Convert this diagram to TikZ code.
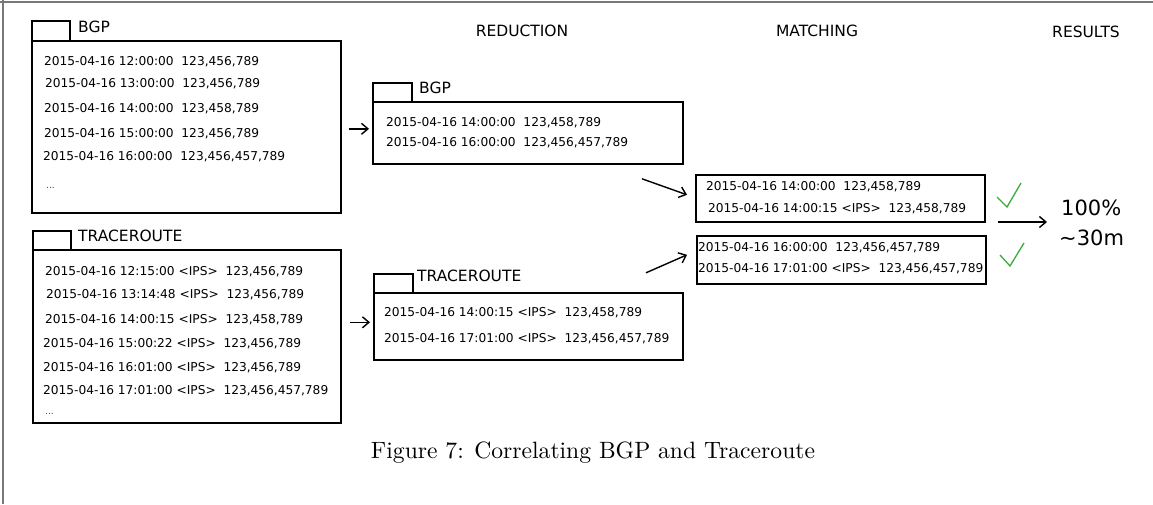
\documentclass[tikz,border=0pt]{standalone}
\usepackage{fontspec}
\usepackage{graphicx}
\newfontfamily\dejavu{DejaVu Sans}
\usetikzlibrary{arrows.meta}
\definecolor{checkgreen}{RGB}{60,170,60}
\definecolor{rulegray}{RGB}{120,120,120}
\tikzset{
  panel/.style={draw=black, line width=1.6pt, inner sep=0pt, anchor=north west},
  tabbox/.style={draw=black, line width=1.6pt, inner sep=0pt, anchor=north west},
  row/.style={anchor=west, inner sep=0pt, font=\dejavu\fontsize{12.2}{14}\selectfont,
              text height=8.9pt, text depth=0pt},
  more/.style={anchor=west, inner sep=0pt, font=\dejavu\fontsize{9}{11}\selectfont,
              text height=2pt, text depth=0pt, text=black!75},
  tabtitle/.style={anchor=west, inner sep=0pt, font=\dejavu\fontsize{15.5}{18}\selectfont,
              text height=11.3pt, text depth=0pt},
  head/.style={inner sep=0pt, font=\dejavu\fontsize{15.5}{18}\selectfont,
              text height=11.3pt, text depth=0pt},
  result/.style={anchor=west, inner sep=0pt, font=\dejavu\fontsize{21}{25}\selectfont,
              text height=15.3pt, text depth=0pt},
  flow/.style={line width=1.4pt, -{Straight Barb[length=6.5pt,width=11pt]}},
  tick/.style={draw=checkgreen, line width=1.3pt},
}
\begin{document}
\begin{tikzpicture}[x=1pt,y=-1pt]
\useasboundingbox (0,0) rectangle (1153,504);

% page rules
\draw[rulegray, line width=1.2pt] (0,2) -- (1153,2);
\draw[rulegray, line width=1.2pt] (3,0) -- (3,504);

% column headings
\node[head] (hred) at (522,31) {REDUCTION};
\node[head] (hmat) at (817,31) {MATCHING};
\node[head] (hres) at (1086,32) {RESULTS};

% raw BGP records
\node[tabbox, minimum width=38pt, minimum height=20pt] (bgpTab) at (31,20) {};
\node[tabtitle] (bgpTitle) at (78,27) {BGP};
\node[panel, minimum width=309pt, minimum height=172pt] (bgpRaw) at (31,40) {};
\node[row] (b1) at (44,61)  {2015-04-16 12:00:00\ \ 123,456,789};
\node[row] (b2) at (45,83)  {2015-04-16 13:00:00\ \ 123,456,789};
\node[row] (b3) at (44,108) {2015-04-16 14:00:00\ \ 123,458,789};
\node[row] (b4) at (44,133) {2015-04-16 15:00:00\ \ 123,456,789};
\node[row] (b5) at (43,156) {2015-04-16 16:00:00\ \ 123,456,457,789};
\node[more] (b6) at (46,187) {...};

% raw traceroute records
\node[tabbox, minimum width=38pt, minimum height=19pt] (trTab) at (32,230) {};
\node[tabtitle] (trTitle) at (78,236) {TRACEROUTE};
\node[panel, minimum width=308pt, minimum height=173pt] (trRaw) at (32,249) {};
\node[row] (t1) at (45,271) {2015-04-16 12:15:00 <IPS>\ \ 123,456,789};
\node[row] (t2) at (46,294) {2015-04-16 13:14:48 <IPS>\ \ 123,456,789};
\node[row] (t3) at (45,319) {2015-04-16 14:00:15 <IPS>\ \ 123,458,789};
\node[row] (t4) at (43,343) {2015-04-16 15:00:22 <IPS>\ \ 123,456,789};
\node[row] (t5) at (43,367) {2015-04-16 16:01:00 <IPS>\ \ 123,456,789};
\node[row] (t6) at (43,390) {2015-04-16 17:01:00 <IPS>\ \ 123,456,457,789};
\node[more] (t7) at (45,413) {...};

% reduced BGP
\node[tabbox, minimum width=39pt, minimum height=19pt] (bgpRedTab) at (372,82) {};
\node[tabtitle] (bgpRedTitle) at (419,88) {BGP};
\node[panel, minimum width=310pt, minimum height=62pt] (bgpRed) at (372,101) {};
\node[row] (rb1) at (386,122) {2015-04-16 14:00:00\ \ 123,458,789};
\node[row] (rb2) at (386,142) {2015-04-16 16:00:00\ \ 123,456,457,789};

% reduced traceroute
\node[tabbox, minimum width=39pt, minimum height=19pt] (trRedTab) at (373,273) {};
\node[tabtitle] (trRedTitle) at (417,276) {TRACEROUTE};
\node[panel, minimum width=309pt, minimum height=67pt] (trRed) at (373,292) {};
\node[row] (rt1) at (384,312) {2015-04-16 14:00:15 <IPS>\ \ 123,458,789};
\node[row] (rt2) at (384,338) {2015-04-16 17:01:00 <IPS>\ \ 123,456,457,789};

% matched pairs
\node[panel, minimum width=289pt, minimum height=47pt] (matchA) at (695,174) {};
\node[row] (ma1) at (706,186) {2015-04-16 14:00:00\ \ 123,458,789};
\node[row] (ma2) at (708,208) {2015-04-16 14:00:15 <IPS>\ \ 123,458,789};
\node[panel, minimum width=289pt, minimum height=48pt] (matchB) at (696,235) {};
\node[row] (mb1) at (698,247) {2015-04-16 16:00:00\ \ 123,456,457,789};
\node[row] (mb2) at (698,268) {2015-04-16 17:01:00 <IPS>\ \ 123,456,457,789};

% results
\node[result] (pct) at (1061,208) {100\%};
\node[result] (dur) at (1059,238) {\textasciitilde30m};

% flow arrows
\draw[flow] ([xshift=7pt,yshift=-2pt]bgpRaw.east) -- ([xshift=-3pt,yshift=-2pt]bgpRaw.east -| bgpRed.west);
\draw[flow] ([shift={(-23,-4)}]trRed.west) -- ([shift={(-3,-4)}]trRed.west);
\draw[flow] ([shift={(-53,-19.5)}]matchA.west) -- ([shift={(-8,-3.5)}]matchA.west);
\draw[flow] ([shift={(-50,13)}]matchB.west) -- ([shift={(-9,-5)}]matchB.west);
\coordinate (resStart) at (998,222);
\coordinate (resEnd) at (1047,222);
\draw[flow] (resStart) -- (resEnd);

% match ticks
\draw[tick] (997,197) -- (1007,207) -- (1021,183);
\draw[tick] (1000,255) -- (1010,266) -- (1024,243);

% caption
\node[inner sep=0pt] (caption) at (593,453) {\scalebox{2.36}{Figure 7: Correlating BGP and Traceroute}};
\end{tikzpicture}
\end{document}
